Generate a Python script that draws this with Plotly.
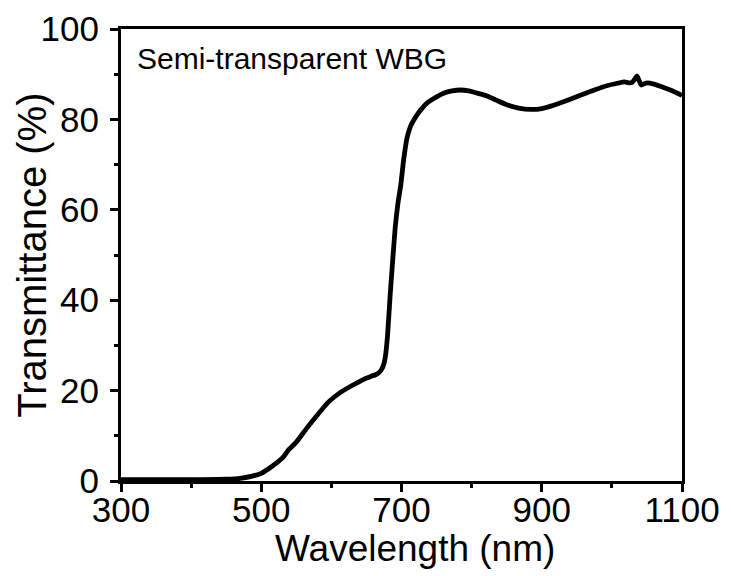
import plotly.graph_objects as go

wavelength_nm = [300, 350, 400, 450, 470, 490, 500, 515, 532, 539, 550, 565, 580, 596, 612,
                 627, 640, 649, 657, 663, 668, 672, 675, 677, 680, 684, 688, 691, 695, 699,
                 703, 708, 713, 718, 727, 737, 750, 760, 772, 784, 796, 808, 822, 836, 851,
                 867, 884, 900, 918, 936, 956, 975, 994, 1008, 1018, 1024, 1029, 1033, 1036,
                 1039, 1042, 1046, 1051, 1060, 1070, 1085, 1100]
transmittance = [0.3, 0.3, 0.3, 0.4, 0.6, 1.2, 1.7, 3.2, 5.4, 6.9, 8.6, 11.7, 14.6, 17.5, 19.5,
                 20.9, 22.0, 22.7, 23.2, 23.5, 24.0, 24.8, 26.0, 27.5, 32.0, 41.5, 50.0, 56.0, 61.5, 65.5,
                 71.0, 76.0, 78.5, 80.0, 82.0, 83.7, 85.0, 85.8, 86.3, 86.5, 86.3, 85.8, 85.2, 84.2, 83.2,
                 82.5, 82.2, 82.4, 83.2, 84.2, 85.4, 86.5, 87.5, 88.0, 88.3, 88.1, 88.2, 89.0, 89.6,
                 88.5, 87.6, 87.9, 88.1, 87.8, 87.3, 86.4, 85.3]

x_ticks = [300, 500, 700, 900, 1100]
y_ticks = [0, 20, 40, 60, 80, 100]
label = "Semi-transparent WBG"
x_title = "Wavelength (nm)"
y_title = "Transmittance (%)"

FONT = "Liberation Sans, Arial, sans-serif"

fig = go.Figure()
fig.add_trace(go.Scatter(
    x=wavelength_nm, y=transmittance, mode="lines",
    line=dict(color="black", width=4.8, shape="spline", smoothing=0.5),
    showlegend=False, hoverinfo="skip"))

axis_common = dict(
    showgrid=False, zeroline=False, showline=True, linecolor="black", linewidth=3,
    mirror=True, ticks="outside", ticklen=8, tickwidth=3, tickcolor="black",
    automargin=False,
    tickfont=dict(family=FONT, size=35, color="black"),
)

fig.update_xaxes(
    range=[300, 1100], tickvals=x_ticks, ticktext=[str(v) for v in x_ticks],
    minor=dict(dtick=100, tick0=300, ticks="outside", ticklen=4, tickwidth=3, tickcolor="black"),
    ticklabelstandoff=-12,
    **axis_common)
fig.update_yaxes(
    range=[0, 100], tickvals=y_ticks, ticktext=[str(v) for v in y_ticks],
    minor=dict(dtick=10, tick0=0, ticks="outside", ticklen=4, tickwidth=3, tickcolor="black"),
    ticklabelstandoff=4,
    **axis_common)

fig.add_annotation(
    text=x_title, xref="paper", yref="paper", x=0.524, y=-0.150,
    xanchor="center", yanchor="middle", showarrow=False,
    font=dict(family=FONT, size=37, color="black"))
fig.add_annotation(
    text=y_title, xref="paper", yref="paper", x=-0.159, y=0.5, textangle=-90,
    xanchor="center", yanchor="middle", showarrow=False,
    font=dict(family=FONT, size=40, color="black"))
fig.add_annotation(
    text=label, xref="paper", yref="paper", x=0.025, y=0.935,
    xanchor="left", yanchor="middle", showarrow=False,
    font=dict(family=FONT, size=30, color="black"))

fig.update_layout(
    width=723, height=568,
    margin=dict(l=113, r=49, t=21, b=95, autoexpand=False),
    paper_bgcolor="white", plot_bgcolor="white",
)

fig.write_html("out.html")
